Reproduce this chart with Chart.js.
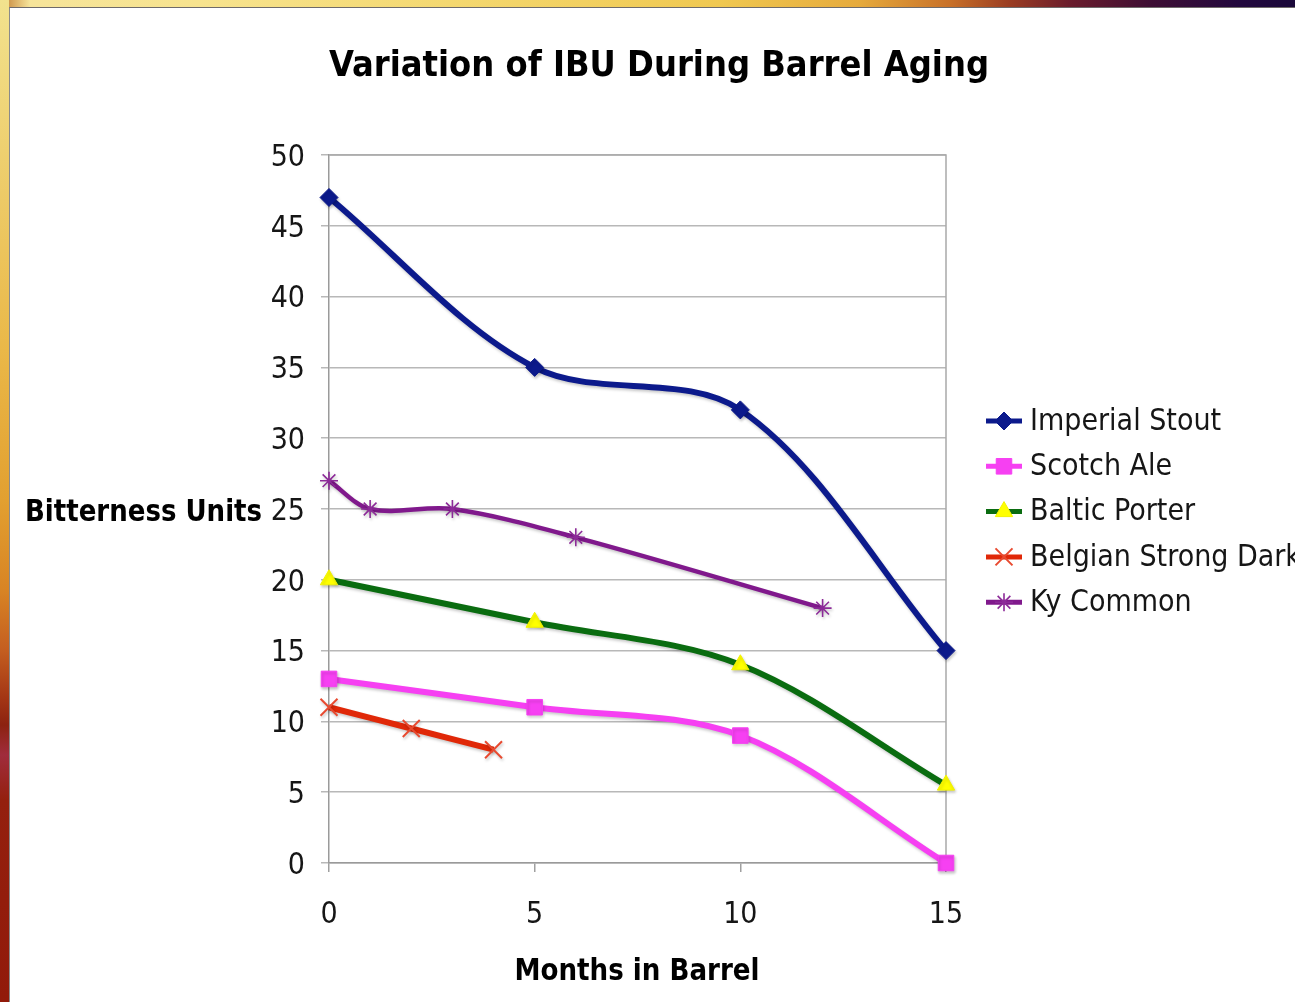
<!DOCTYPE html>
<html>
<head>
<meta charset="utf-8">
<title>Variation of IBU During Barrel Aging</title>
<script src="https://cdn.jsdelivr.net/npm/chart.js@4/dist/chart.umd.min.js"></script>
<style>
  html, body { margin: 0; padding: 0; }
  body { width: 1295px; height: 1002px; position: relative; overflow: hidden; background: #fff; }
  .strip-top {
    position: absolute; left: 0; top: 0; width: 1295px; height: 8px;
    background: linear-gradient(to right, #c07a30 0px, #f6e49a 30px, #f7e38e 200px, #f4d870 450px,
      #f0c850 720px, #e6aa3c 860px, #c87028 950px, #9a3c22 1010px, #6a1c2c 1070px,
      #3e0e34 1150px, #22083e 1240px, #1a083a 1295px);
  }
  .strip-left {
    position: absolute; left: 0; top: 0; width: 9px; height: 1002px;
    background: linear-gradient(to bottom, #f2e28e 0px, #eed070 150px, #eab848 350px,
      #e2a030 500px, #d88424 590px, #c45e20 650px, #a23414 700px, #8c2210 725px,
      #a02c3c 755px, #94200e 800px, #921a0a 1002px);
  }
  .panel {
    position: absolute; left: 9px; top: 7px; right: 0; bottom: 0;
    background: #ffffff; border-top: 1px solid #6e6a6a; border-left: 1px solid #8a8a8a;
  }
  #chart { position: absolute; left: 0; top: 0; }
</style>
</head>
<body>
<div class="strip-top"></div>
<div class="strip-left"></div>
<div class="panel"></div>
<canvas id="chart" width="1295" height="1002"></canvas>
<script>
// Bitterness (IBU) readings per beer, by months spent in the barrel
const stoutMonths   = [0, 5, 10, 15];
const stoutIBU      = [47, 35, 32, 15];
const scotchMonths  = [0, 5, 10, 15];
const scotchIBU     = [13, 11, 9, 0];
const balticMonths  = [0, 5, 10, 15];
const balticIBU     = [20, 17, 14, 5.5];
const belgianMonths = [0, 2, 4];
const belgianIBU    = [11, 9.5, 8];
const kyMonths      = [0, 1, 3, 6, 12];
const kyIBU         = [27, 25, 25, 23, 18];

const seriesNames = ['Imperial Stout', 'Scotch Ale', 'Baltic Porter', 'Belgian Strong Dark', 'Ky Common'];
const monthTicks  = [0, 5, 10, 15];
const ibuTicks    = [0, 5, 10, 15, 20, 25, 30, 35, 40, 45, 50];

const chartTitle = 'Variation of IBU During Barrel Aging';
const yTitle = 'Bitterness Units';
const xTitle = 'Months in Barrel';

const FONT = "'DejaVu Sans Condensed', 'DejaVu Sans', sans-serif";

function toPoints(xs, ys) { return xs.map((x, i) => ({ x: x, y: ys[i] })); }

const styles = [
  { color: '#0c1a8c', point: 'rectRot',  radius: 9,  fill: '#0c1a8c', pborder: '#0c1a8c', pwidth: 1,   width: 6 },
  { color: '#f640f2', point: 'rect',     radius: 11, fill: '#f640f2', pborder: '#f640f2', pwidth: 1,   width: 6 },
  { color: '#0a6c10', point: 'triangle', radius: 10, fill: '#ffff00', pborder: '#f2f200', pwidth: 1,   width: 6 },
  { color: '#e02808', point: 'crossRot', radius: 12, fill: '#e84a30', pborder: '#e84a30', pwidth: 2,   width: 6 },
  { color: '#80198c', point: 'star',     radius: 9,  fill: '#8c2a98', pborder: '#8c2a98', pwidth: 1.6, width: 4.5 }
];

const seriesData = [
  toPoints(stoutMonths, stoutIBU),
  toPoints(scotchMonths, scotchIBU),
  toPoints(balticMonths, balticIBU),
  toPoints(belgianMonths, belgianIBU),
  toPoints(kyMonths, kyIBU)
];

const datasets = seriesNames.map((name, i) => ({
  label: name,
  data: seriesData[i],
  borderColor: styles[i].color,
  borderWidth: styles[i].width,
  backgroundColor: styles[i].fill,
  pointStyle: styles[i].point,
  pointRadius: styles[i].radius,
  pointBackgroundColor: styles[i].fill,
  pointBorderColor: styles[i].pborder,
  pointBorderWidth: styles[i].pwidth,
  tension: 0.33,
  fill: false,
  clip: false
}));

// Titles, plot frame and legend drawn straight onto the canvas
const decorations = {
  id: 'decorations',
  beforeDatasetsDraw(chart) {
    const { ctx, chartArea: a } = chart;
    ctx.save();
    ctx.strokeStyle = '#a9a9a9';
    ctx.lineWidth = 1.5;
    ctx.beginPath();
    ctx.moveTo(a.left, a.top);
    ctx.lineTo(a.right, a.top);
    ctx.lineTo(a.right, a.bottom);
    ctx.stroke();
    ctx.restore();
  },
  beforeDatasetDraw(chart) {
    const ctx = chart.ctx;
    ctx.save();
    ctx.shadowColor = 'rgba(0,0,0,0.22)';
    ctx.shadowBlur = 3;
    ctx.shadowOffsetX = 1;
    ctx.shadowOffsetY = 2;
  },
  afterDatasetDraw(chart) {
    chart.ctx.restore();
  },
  afterDraw(chart) {
    const { ctx } = chart;
    ctx.save();
    ctx.fillStyle = '#000';
    ctx.textBaseline = 'alphabetic';

    ctx.font = 'bold 36px ' + FONT;
    ctx.textAlign = 'center';
    ctx.fillText(chartTitle, 659, 76, 660);

    ctx.font = 'bold 31px ' + FONT;
    ctx.textAlign = 'left';
    ctx.fillText(yTitle, 25, 521, 237);

    ctx.textAlign = 'center';
    ctx.fillText(xTitle, 637, 980, 245);

    // legend
    const lx = 986, lw = 36, ty = 421, step = 45.3;
    ctx.font = '30px ' + FONT;
    ctx.textAlign = 'left';
    ctx.textBaseline = 'middle';
    chart.data.datasets.forEach((ds, i) => {
      const y = ty + i * step;
      ctx.strokeStyle = ds.borderColor;
      ctx.lineWidth = 5;
      ctx.beginPath();
      ctx.moveTo(lx, y);
      ctx.lineTo(lx + lw, y);
      ctx.stroke();
      const opts = {
        pointStyle: ds.pointStyle,
        radius: ds.pointRadius,
        rotation: 0,
        borderWidth: ds.pointBorderWidth
      };
      ctx.fillStyle = ds.pointBackgroundColor;
      ctx.strokeStyle = ds.pointBorderColor;
      ctx.lineWidth = ds.pointBorderWidth;
      if (Chart.helpers && Chart.helpers.drawPoint) {
        Chart.helpers.drawPoint(ctx, opts, lx + lw / 2, y);
      } else {
        ctx.beginPath();
        ctx.arc(lx + lw / 2, y, ds.pointRadius, 0, Math.PI * 2);
        ctx.fill();
      }
      ctx.fillStyle = '#161616';
      ctx.fillText(ds.label, 1030, y + 1);
    });
    ctx.restore();
  }
};

new Chart(document.getElementById('chart'), {
  type: 'line',
  data: { datasets: datasets },
  options: {
    responsive: false,
    maintainAspectRatio: false,
    animation: false,
    layout: { padding: { left: 0, top: 155, right: 349, bottom: 0 } },
    plugins: {
      legend: { display: false },
      title: { display: false },
      tooltip: { enabled: false }
    },
    scales: {
      x: {
        type: 'linear',
        min: 0,
        max: 15,
        afterFit(s) { s.height = 139; },
        afterBuildTicks(s) { s.ticks = monthTicks.map(v => ({ value: v })); },
        grid: { drawOnChartArea: false, drawTicks: true, tickLength: 9, color: '#a0a0a0', lineWidth: 1.5 },
        border: { display: true, color: '#9a9a9a', width: 1.5 },
        ticks: { padding: 25, color: '#161616', font: { family: FONT, size: 30 }, maxRotation: 0 }
      },
      y: {
        min: 0,
        max: 50,
        afterFit(s) { s.width = 329; },
        afterBuildTicks(s) { s.ticks = ibuTicks.map(v => ({ value: v })); },
        grid: { color: '#b8b8b8', lineWidth: 1.5, tickLength: 8 },
        border: { display: true, color: '#9a9a9a', width: 1.5 },
        ticks: { padding: 16, labelOffset: 3, color: '#161616', font: { family: FONT, size: 30 } }
      }
    }
  },
  plugins: [decorations]
});
</script>
</body>
</html>
